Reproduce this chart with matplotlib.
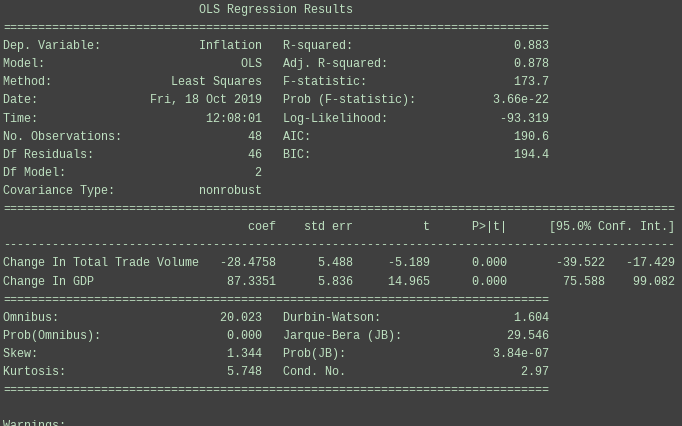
import matplotlib
matplotlib.use("Agg")
import matplotlib.pyplot as plt

# ---- data ----
title = "OLS Regression Results"
left_labels = ["Dep. Variable:", "Model:", "Method:", "Date:", "Time:",
               "No. Observations:", "Df Residuals:", "Df Model:", "Covariance Type:"]
left_values = ["Inflation", "OLS", "Least Squares", "Fri, 18 Oct 2019", "12:08:01",
               "48", "46", "2", "nonrobust"]
right_labels = ["R-squared:", "Adj. R-squared:", "F-statistic:", "Prob (F-statistic):",
                "Log-Likelihood:", "AIC:", "BIC:", "", ""]
right_values = ["0.883", "0.878", "173.7", "3.66e-22", "-93.319", "190.6", "194.4", "", ""]

coef_header = ["coef", "std err", "t", "P>|t|", "[95.0% Conf. Int.]"]
var_names = ["Change In Total Trade Volume", "Change In GDP"]
coefs = ["-28.4758", "87.3351"]
std_errs = ["5.488", "5.836"]
t_vals = ["-5.189", "14.965"]
p_vals = ["0.000", "0.000"]
ci_low = ["-39.522", "75.588"]
ci_high = ["-17.429", "99.082"]

diag_left_labels = ["Omnibus:", "Prob(Omnibus):", "Skew:", "Kurtosis:"]
diag_left_values = ["20.023", "0.000", "1.344", "5.748"]
diag_right_labels = ["Durbin-Watson:", "Jarque-Bera (JB):", "Prob(JB):", "Cond. No."]
diag_right_values = ["1.604", "29.546", "3.84e-07", "2.97"]

# ---- build text lines ----
W = 78
name_w = max(len(n) for n in var_names) + 1
wide = name_w + 10 + 11 + 11 + 11 + 24


def two_col(ll, lv, rl, rv):
    left = ll + lv.rjust(37 - len(ll))
    right = (rl + rv.rjust(38 - len(rl))) if rl else ""
    return left + "   " + right


lines = [title.center(W), "=" * W]
for a, b, c, d in zip(left_labels, left_values, right_labels, right_values):
    lines.append(two_col(a, b, c, d))
lines.append("=" * wide)
lines.append(" " * name_w + coef_header[0].rjust(10) + coef_header[1].rjust(11)
             + coef_header[2].rjust(11) + coef_header[3].rjust(11) + coef_header[4].rjust(24))
lines.append("-" * wide)
for n, c, s, t, p, lo, hi in zip(var_names, coefs, std_errs, t_vals, p_vals, ci_low, ci_high):
    lines.append(n.ljust(name_w) + c.rjust(10) + s.rjust(11) + t.rjust(11)
                 + p.rjust(11) + lo.rjust(14) + hi.rjust(10))
lines.append("=" * W)
for a, b, c, d in zip(diag_left_labels, diag_left_values, diag_right_labels, diag_right_values):
    lines.append(two_col(a, b, c, d))
lines.append("=" * W)
lines.append("")
lines.append("Warnings:")

# ---- draw ----
bg = "#3f3f3f"
fg = "#bfe2c2"
fig = plt.figure(figsize=(6.82, 4.26), dpi=100, facecolor=bg)
ax = fig.add_axes([0, 0, 1, 1])
ax.set_facecolor(bg)
ax.set_xlim(0, 682)
ax.set_ylim(426, 0)
ax.axis("off")

fs = 8.45
for i, ln in enumerate(lines):
    y = 9 + 18.1 * i + 4
    ax.text(3, y, ln, family="Liberation Mono", fontsize=fs, color=fg,
            va="baseline", ha="left")

fig.savefig("out.png", dpi=100, facecolor=bg)
